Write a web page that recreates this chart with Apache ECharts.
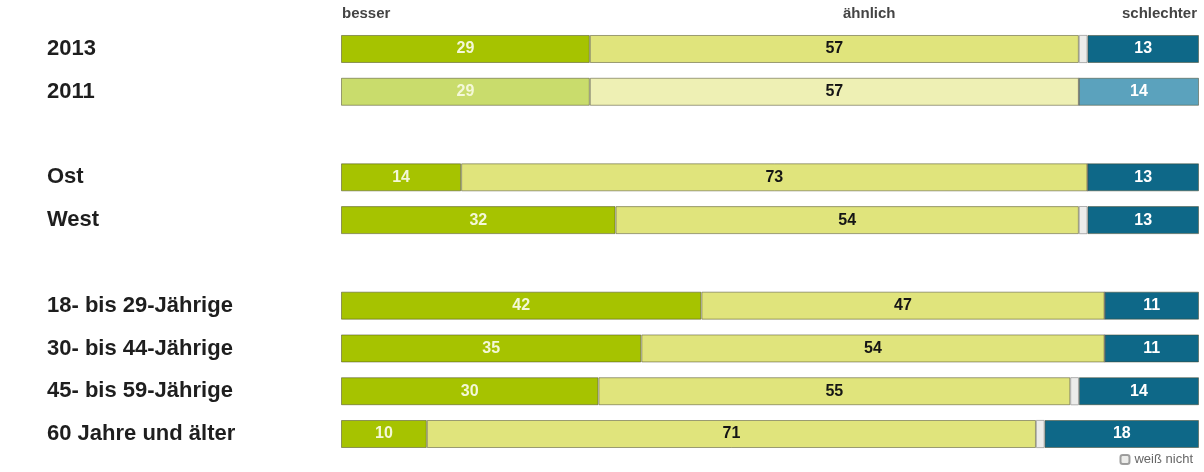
<!DOCTYPE html>
<html>
<head>
<meta charset="utf-8">
<script src="https://cdn.jsdelivr.net/npm/echarts@6/dist/echarts.min.js"></script>
<style>
html,body{margin:0;padding:0;background:#fff;}
#chart{width:1204px;height:472px;}
</style>
</head>
<body>
<div id="chart"></div>
<script>
// Categories ('' = spacer row)
const categories = ['2013', '2011', '', 'Ost', 'West', '', '18- bis 29-Jährige', '30- bis 44-Jährige', '45- bis 59-Jährige', '60 Jahre und älter'];
const seriesNames = ['besser', 'ähnlich', 'weiß nicht', 'schlechter'];
const besser     = [29, 29, null, 14, 32, null, 42, 35, 30, 10];
const aehnlich   = [57, 57, null, 73, 54, null, 47, 54, 55, 71];
const weissNicht = [1, 0, null, 0, 1, null, 0, 0, 1, 1];
const schlechter = [13, 14, null, 13, 13, null, 11, 11, 14, 18];
const headings = ['besser', 'ähnlich', 'schlechter'];

const FONT = '"Liberation Sans", Arial, sans-serif';
const colors = {
  besser: '#a6c300', aehnlich: '#e0e47c', weiss: '#ececea', schlechter: '#0e6888'
};
const colors2011 = {
  besser: '#c9dc6c', aehnlich: '#eef0b4', weiss: '#eeeeee', schlechter: '#5ba2bd'
};
const border = 'rgba(70,70,40,0.5)';

function build(values, key) {
  return values.map((v, i) => {
    if (v === null) return '-';
    if (categories[i] === '2011') {
      return { value: v, itemStyle: { color: colors2011[key] } };
    }
    return v;
  });
}

const labelBase = { show: true, position: 'inside', fontFamily: FONT, fontWeight: 'bold', fontSize: 16 };

const chart = echarts.init(document.getElementById('chart'), null, { renderer: 'canvas' });
chart.setOption({
  animation: false,
  backgroundColor: '#ffffff',
  grid: { left: 341, right: 5, top: 27.6, bottom: 16.6, containLabel: false },
  xAxis: { type: 'value', min: 0, max: 100, show: false },
  yAxis: {
    type: 'category', data: categories, inverse: true,
    axisLine: { show: false }, axisTick: { show: false }, splitLine: { show: false },
    axisLabel: { align: 'left', margin: 294, fontFamily: FONT, fontWeight: 'bold', fontSize: 22, color: '#1e1e1e' }
  },
  legend: {
    data: ['weiß nicht'], right: 6, bottom: 1, itemWidth: 9, itemHeight: 9, itemGap: 6,
    textStyle: { fontFamily: FONT, fontSize: 13, color: '#666' }
  },
  graphic: [
    { type: 'text', left: 342, top: 6, style: { text: headings[0], font: 'bold 15px ' + FONT, fill: '#444' } },
    { type: 'text', left: 843, top: 6, style: { text: headings[1], font: 'bold 15px ' + FONT, fill: '#444', textAlign: 'center' } },
    { type: 'text', right: 7, top: 6, style: { text: headings[2], font: 'bold 15px ' + FONT, fill: '#444' } }
  ],
  series: [
    { name: seriesNames[0], type: 'bar', stack: 't', barWidth: 28, data: build(besser, 'besser'),
      itemStyle: { color: colors.besser, borderColor: border, borderWidth: 1 },
      label: Object.assign({}, labelBase, { color: '#f4f8d8' }) },
    { name: seriesNames[1], type: 'bar', stack: 't', barWidth: 28, data: build(aehnlich, 'aehnlich'),
      itemStyle: { color: colors.aehnlich, borderColor: border, borderWidth: 1 },
      label: Object.assign({}, labelBase, { color: '#151515' }) },
    { name: seriesNames[2], type: 'bar', stack: 't', barWidth: 28, data: build(weissNicht, 'weiss'),
      itemStyle: { color: colors.weiss, borderColor: 'rgba(120,120,120,0.7)', borderWidth: 0.8 },
      label: { show: false } },
    { name: seriesNames[3], type: 'bar', stack: 't', barWidth: 28, data: build(schlechter, 'schlechter'),
      itemStyle: { color: colors.schlechter, borderColor: border, borderWidth: 1 },
      label: Object.assign({}, labelBase, { color: '#ffffff' }) }
  ]
});
</script>
</body>
</html>
